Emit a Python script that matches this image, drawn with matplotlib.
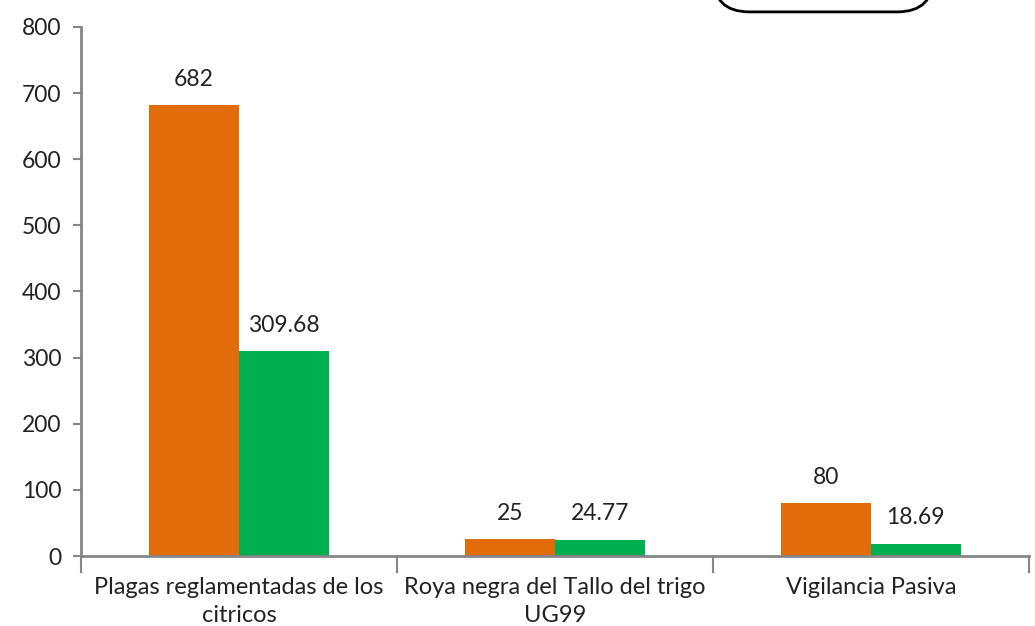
import matplotlib.pyplot as plt
from matplotlib.patches import FancyBboxPatch
import numpy as np

categories = ["Plagas reglamentadas de los\ncitricos",
              "Roya negra del Tallo del trigo\nUG99",
              "Vigilancia Pasiva"]
serie_a = [682, 25, 80]
serie_b = [309.68, 24.77, 18.69]
labels_a = ["682", "25", "80"]
labels_b = ["309.68", "24.77", "18.69"]
yticks = [0, 100, 200, 300, 400, 500, 600, 700, 800]

orange = "#E36C0A"
green = "#00B050"
gray = "#868686"
plt.rcParams['font.family'] = ['Lato', 'DejaVu Sans']

fig = plt.figure(figsize=(10.35, 6.26), dpi=100)
ax = fig.add_axes([0.0783, 0.1118, 0.9157, 0.8452])

x = np.arange(len(categories))
w = 0.285
ax.bar(x - w / 2, serie_a, w, color=orange)
ax.bar(x + w / 2, serie_b, w, color=green)

for xi, v, t in zip(x - w / 2, serie_a, labels_a):
    ax.annotate(t, (xi, v), xytext=(0, 11), textcoords="offset points",
                ha="center", va="bottom", fontsize=16.5, color="#222222")
for xi, v, t in zip(x + w / 2, serie_b, labels_b):
    ax.annotate(t, (xi, v), xytext=(0, 11), textcoords="offset points",
                ha="center", va="bottom", fontsize=16.5, color="#222222")

ax.set_xlim(-0.5, len(categories) - 0.5)
ax.set_ylim(0, 800)
ax.set_yticks(yticks)
ax.tick_params(axis="y", labelsize=16.5, colors="#222222", length=6, width=1.5, color=gray, pad=8)

# category labels between boundary ticks
ax.set_xticks(x)
ax.set_xticklabels(categories, fontsize=17, color="#222222", linespacing=1.45)
ax.tick_params(axis="x", length=0, pad=15)
for b in np.arange(-0.5, len(categories), 1.0):
    ax.plot([b, b], [0, -0.03], transform=ax.get_xaxis_transform(),
            color=gray, lw=1.5, clip_on=False)

for s in ["top", "right"]:
    ax.spines[s].set_visible(False)
for s in ["left", "bottom"]:
    ax.spines[s].set_color(gray)
    ax.spines[s].set_linewidth(2)

# legend box cut off at the top of the image
box = FancyBboxPatch((0.689, 0.981), 0.213, 0.1, boxstyle="round,pad=0,rounding_size=0.035",
                     transform=fig.transFigure, facecolor="white", edgecolor="black",
                     lw=2, mutation_aspect=1.65, clip_on=False)
fig.patches.append(box)

fig.savefig("out.png", dpi=100)
